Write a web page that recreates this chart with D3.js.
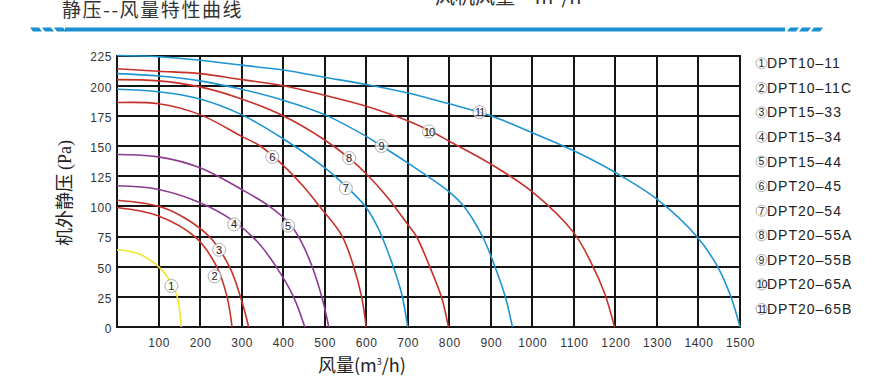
<!DOCTYPE html>
<html>
<head>
<meta charset="utf-8">
<script src="https://cdn.jsdelivr.net/npm/d3@7"></script>
<style>
  body { margin: 0; background: #fff; }
  svg { display: block; }
</style>
</head>
<body>
<div id="root"></div>
<script>
// models in legend order, numbers drawn in circles
var models = ['DPT10–11', 'DPT10–11C', 'DPT15–33', 'DPT15–34', 'DPT15–44', 'DPT20–45',
              'DPT20–54', 'DPT20–55A', 'DPT20–55B', 'DPT20–65A', 'DPT20–65B'];
var modelNo = ['1', '2', '3', '4', '5', '6', '7', '8', '9', '10', '11'];

// air flow (m3/h) and static pressure (Pa)
var flows = [
  [0, 50, 100, 130, 145, 155],
  [0, 100, 190, 240, 265, 277],
  [0, 100, 160, 225, 272, 300, 317],
  [0, 100, 200, 280, 337, 385, 425, 452],
  [0, 100, 200, 300, 367, 415, 440, 470, 493, 510],
  [0, 100, 200, 300, 345, 400, 450, 490, 541, 569, 589, 600],
  [0, 100, 200, 300, 400, 500, 550, 600, 630, 661, 685, 700],
  [0, 100, 200, 300, 400, 500, 559, 600, 650, 700, 721, 753, 781, 798],
  [0, 100, 200, 300, 400, 500, 600, 637, 700, 800, 835, 880, 910, 935, 952],
  [0, 100, 200, 300, 400, 500, 600, 700, 751, 800, 900, 1000, 1100, 1142, 1174, 1198],
  [0, 100, 200, 300, 400, 500, 600, 700, 800, 900, 1000, 1100, 1200, 1300, 1396, 1446, 1478, 1500]
];
var pressures = [
  [64, 61, 50, 37, 25, 0],
  [99, 92, 74, 50, 25, 0],
  [105, 100, 91, 74, 49, 22, 0],
  [117, 114, 103, 88, 71, 49, 25, 0],
  [143, 141, 132, 114, 100, 86, 73, 50, 25, 0],
  [186, 185, 176, 158, 150, 134, 116, 99, 76, 51, 25, 0],
  [197, 195, 189, 176, 156, 132, 117, 99, 81, 54, 28, 0],
  [205, 204, 199, 189, 175, 155, 140, 127, 108, 85, 75, 50, 25, 0],
  [210, 208, 204, 197, 188, 176, 158, 150, 136, 112, 100, 75, 50, 25, 0],
  [214, 212, 210, 205, 200, 192, 183, 171, 163, 154, 135, 112, 78, 53, 28, 0],
  [225, 224, 221, 217, 213, 207, 201, 194, 185, 175, 161, 146, 128, 106, 75, 50, 25, 0]
];
// where the circled number of each curve sits (data units)
var labelFlow = [131, 235, 246, 282, 412, 374, 551, 559, 637, 751, 873];
var labelPres = [34, 42, 64, 85, 84, 141, 115, 140, 150, 162, 178];

var xTicks = [100, 200, 300, 400, 500, 600, 700, 800, 900, 1000, 1100, 1200, 1300, 1400, 1500];
var yTicks = [0, 25, 50, 75, 100, 125, 150, 175, 200, 225];

var curveColors = ['#f2e52a', '#c6322b', '#c6322b', '#8c3a93', '#8c3a93', '#c6322b',
                   '#1e95d2', '#c6322b', '#1e95d2', '#c6322b', '#1e95d2'];

var w = 896, h = 389;
var svg = d3.select('#root').append('svg')
  .attr('width', w)
  .attr('height', h)
  .style('font-family', 'Liberation Sans, Arial, sans-serif');

var x = d3.scaleLinear().domain([0, 1500]).range([117, 740]);
var y = d3.scaleLinear().domain([0, 225]).range([327, 55.5]);

// header: title (top cut off), blue rule with dashed ends
svg.append('text')
  .attr('x', 435).attr('y', 4)
  .style('font-family', 'Noto Sans CJK SC')
  .style('font-size', '20px')
  .style('fill', '#333')
  .text('风机风量 – m³/h');

svg.append('text')
  .attr('x', 62).attr('y', 17)
  .style('font-family', 'Noto Sans CJK SC')
  .style('font-size', '19px')
  .style('letter-spacing', '1.6px')
  .style('fill', '#333')
  .text('静压--风量特性曲线');

var blue = '#1a8fd2';
svg.append('rect')
  .attr('x', 65).attr('y', 27.5)
  .attr('width', 720).attr('height', 4)
  .attr('fill', blue);
[30, 42, 54].forEach(function(s) {
  svg.append('path')
    .attr('d', 'M' + s + ',27.5 h9 l3,4 h-9 z')
    .attr('fill', blue);
});
[787, 799, 811].forEach(function(s) {
  svg.append('path')
    .attr('d', 'M' + (s + 3) + ',27.5 h9 l-3,4 h-9 z')
    .attr('fill', blue);
});

// grid
var grid = svg.append('g')
  .attr('stroke', '#151515')
  .attr('stroke-width', 2)
  .attr('shape-rendering', 'crispEdges');
grid.selectAll('line.v')
  .data([0].concat(xTicks)).enter().append('line')
  .attr('class', 'v')
  .attr('x1', function(d) { return Math.round(x(d)); })
  .attr('x2', function(d) { return Math.round(x(d)); })
  .attr('y1', Math.round(y(225)) - 1).attr('y2', Math.round(y(0)) + 1);
grid.selectAll('line.h')
  .data(yTicks).enter().append('line')
  .attr('class', 'h')
  .attr('y1', function(d) { return Math.round(y(d)); })
  .attr('y2', function(d) { return Math.round(y(d)); })
  .attr('x1', x(0) - 1).attr('x2', x(1500) + 1);

// axes (labels only)
var xAxis = svg.append('g')
  .attr('transform', 'translate(0,' + y(0) + ')')
  .call(d3.axisBottom(x).tickValues(xTicks).tickFormat(d3.format('d')).tickSize(0).tickPadding(11));
var yAxis = svg.append('g')
  .attr('transform', 'translate(' + x(0) + ',0)')
  .call(d3.axisLeft(y).tickValues(yTicks).tickFormat(d3.format('d')).tickSize(0).tickPadding(5));
[xAxis, yAxis].forEach(function(a) {
  a.select('.domain').remove();
  a.selectAll('text')
    .style('font-family', 'Liberation Sans, Arial, sans-serif')
    .style('font-size', '12px')
    .style('letter-spacing', '0.6px')
    .style('fill', '#333');
});
yAxis.selectAll('text').attr('dy', '0.45em');

// curves
var line = d3.line()
  .x(function(d) { return x(d[0]); })
  .y(function(d) { return y(d[1]); })
  .curve(d3.curveCatmullRom.alpha(0.5));

svg.selectAll('path.curve')
  .data(flows).enter().append('path')
  .attr('class', 'curve')
  .attr('fill', 'none')
  .attr('stroke', function(d, i) { return curveColors[i]; })
  .attr('stroke-width', 1.6)
  .attr('d', function(d, i) {
    return line(d.map(function(q, j) { return [q, pressures[i][j]]; }));
  });

// circled numbers on the curves
var tags = svg.selectAll('g.tag')
  .data(modelNo).enter().append('g')
  .attr('class', 'tag')
  .attr('transform', function(d, i) {
    return 'translate(' + x(labelFlow[i]) + ',' + y(labelPres[i]) + ')';
  });
tags.append('circle')
  .attr('r', 6.5)
  .attr('fill', 'rgba(255,255,255,0.75)')
  .attr('stroke', '#9a9a9a')
  .attr('stroke-width', 0.8);
tags.append('text')
  .attr('text-anchor', 'middle')
  .attr('y', 4)
  .attr('letter-spacing', function(d) { return d.length > 1 ? '-1px' : '0'; })
  .style('font-size', '11px')
  .style('fill', '#222')
  .text(function(d) { return d; });

// legend
var legend = svg.selectAll('g.legend')
  .data(models).enter().append('g')
  .attr('class', 'legend')
  .attr('transform', function(d, i) { return 'translate(761.5,' + (63.3 + i * 24.57) + ')'; });
legend.append('circle')
  .attr('r', 5.5)
  .attr('fill', 'none')
  .attr('stroke', '#9a9a9a')
  .attr('stroke-width', 0.8);
legend.append('text')
  .attr('text-anchor', 'middle')
  .attr('y', 3.8)
  .attr('letter-spacing', function(d, i) { return i > 8 ? '-1.2px' : '0'; })
  .style('font-size', '10.5px')
  .style('fill', '#222')
  .text(function(d, i) { return modelNo[i]; });
legend.append('text')
  .attr('x', 5.5)
  .attr('y', 5)
  .style('font-size', '14px')
  .style('letter-spacing', '1px')
  .style('fill', '#222')
  .text(function(d) { return d; });

// axis titles
svg.append('text')
  .attr('x', 318).attr('y', 372)
  .style('font-family', 'Noto Sans CJK SC')
  .style('font-size', '18px')
  .style('fill', '#222')
  .html('风量(m<tspan dy="-7" font-size="9">3</tspan><tspan dy="7">/h)</tspan>');

svg.append('text')
  .attr('transform', 'translate(71,193) rotate(-90)')
  .attr('text-anchor', 'middle')
  .style('font-family', 'Noto Sans CJK SC')
  .style('font-size', '18px')
  .style('fill', '#222')
  .html('机外静压 <tspan style="font-family: Liberation Serif, serif">(Pa)</tspan>');
</script>
</body>
</html>
